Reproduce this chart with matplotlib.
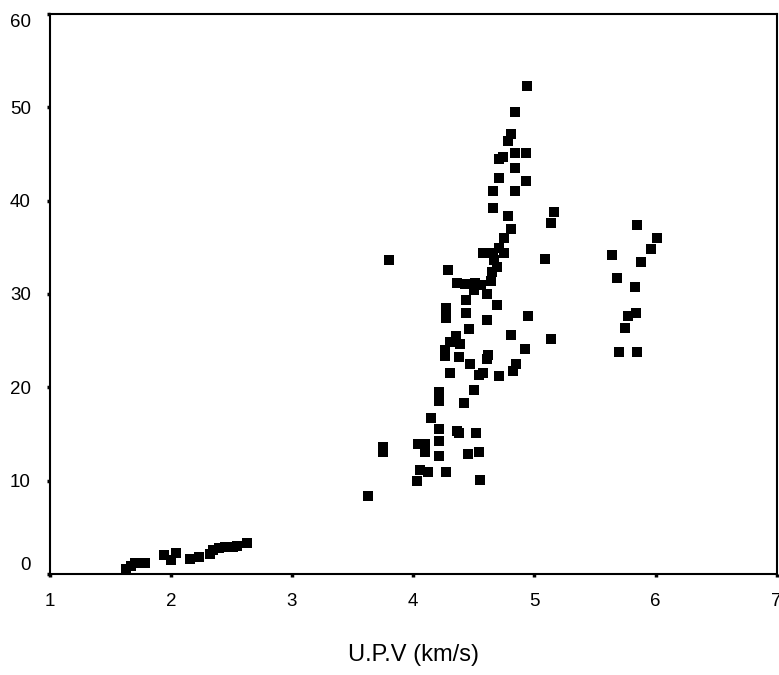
import matplotlib.pyplot as plt

plt.rcParams['font.family'] = ['Liberation Sans', 'DejaVu Sans']

# low-velocity cluster
upv_low = [1.63, 1.67, 1.70, 1.79, 1.94, 2.00, 2.04, 2.16, 2.23, 2.32, 2.35,
           2.40, 2.45, 2.51, 2.55, 2.63]
str_low = [0.5, 0.9, 1.2, 1.2, 2.0, 1.5, 2.2, 1.6, 1.85, 2.1, 2.6,
           2.75, 2.85, 2.9, 3.0, 3.35]

# main cluster
upv_mid = [4.94, 4.84, 4.81, 4.78, 4.84, 4.93, 4.71, 4.74, 4.84, 4.71, 4.93,
           4.66, 4.84, 4.66, 5.16, 4.78, 5.14, 4.81, 4.75, 4.71, 4.58, 4.66,
           4.75, 3.80, 5.09, 4.67, 4.69, 4.29, 4.65, 4.36, 4.43, 4.51, 4.56,
           4.50, 4.64, 4.61, 4.44, 4.69, 4.27, 4.44, 4.27, 4.61, 4.95, 4.46,
           4.81, 5.14, 4.35, 4.30, 4.39, 4.92, 4.26, 4.26, 4.38, 4.62, 4.61,
           4.47, 4.85, 4.82, 4.30, 4.54, 4.58, 4.71, 4.50, 4.21, 4.21, 4.42,
           4.15, 4.21, 4.36, 4.38, 4.52, 3.75, 3.75, 4.04, 4.10, 4.10, 4.21,
           4.21, 4.45, 4.54, 4.06, 4.12, 4.27, 4.03, 4.55, 3.63]
str_mid = [52.3, 49.5, 47.1, 46.4, 45.1, 45.1, 44.5, 44.7, 43.5, 42.4, 42.1,
           41.0, 41.0, 39.2, 38.8, 38.4, 37.6, 37.0, 36.0, 34.9, 34.4, 34.4,
           34.4, 33.6, 33.8, 33.6, 32.9, 32.6, 32.4, 31.2, 31.1, 31.2, 31.0,
           30.4, 31.4, 30.0, 29.4, 28.8, 28.5, 28.0, 27.4, 27.2, 27.6, 26.3,
           25.6, 25.2, 25.5, 24.9, 24.6, 24.1, 24.0, 23.4, 23.3, 23.5, 23.0,
           22.5, 22.5, 21.7, 21.5, 21.3, 21.5, 21.2, 19.7, 19.5, 18.5, 18.3,
           16.7, 15.5, 15.3, 15.1, 15.1, 13.6, 13.1, 13.9, 13.9, 13.1, 14.3,
           12.6, 12.9, 13.1, 11.1, 10.9, 10.9, 10.0, 10.1, 8.4]

# high-velocity cluster
upv_high = [5.85, 6.01, 5.96, 5.88, 5.64, 5.68, 5.83, 5.84, 5.77, 5.75, 5.70, 5.85]
str_high = [37.4, 36.0, 34.8, 33.4, 34.2, 31.7, 30.8, 28.0, 27.6, 26.4, 23.8, 23.8]

x = upv_low + upv_mid + upv_high
y = str_low + str_mid + str_high

fig = plt.figure(figsize=(7.79, 6.75), dpi=100)
ax = fig.add_axes([0.0638, 0.1496, 0.9332, 0.8297])
ax.scatter(x, y, marker='s', s=42, c='black', linewidths=0)

ax.set_xlim(1, 7)
ax.set_ylim(0, 60)
ax.set_xticks(range(1, 8))
ax.set_yticks(range(0, 61, 10))
ax.tick_params(direction='out', length=2.5, width=2.5, labelsize=13.5, pad=11)
for s in ax.spines.values():
    s.set_linewidth(1.5)
ylabels = ax.get_yticklabels()
ylabels[0].set_va('bottom')
ylabels[-1].set_va('top')

ax.set_xlabel('U.P.V (km/s)', fontsize=17, labelpad=25)

plt.savefig('out.png')
plt.close()
